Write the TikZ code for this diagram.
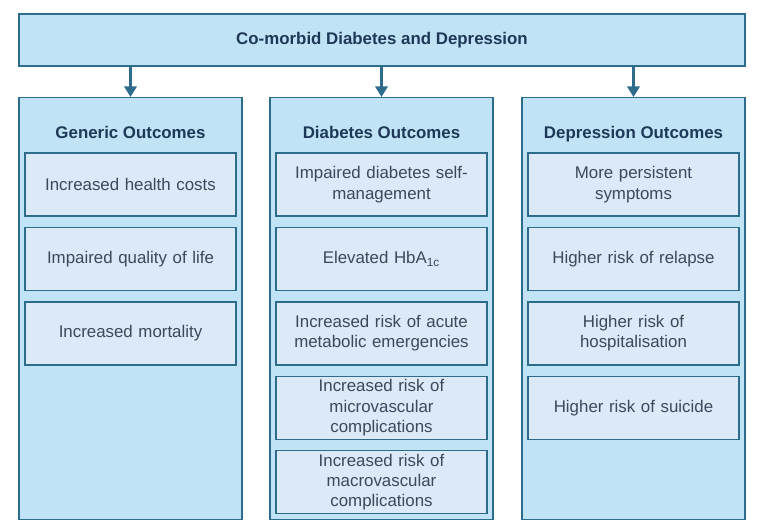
\documentclass[tikz,border=0pt]{standalone}
\usepackage{fontspec}
\setmainfont{Liberation Sans}
\usetikzlibrary{arrows.meta, positioning}
\definecolor{boxline}{RGB}{46,108,140}
\definecolor{outerfill}{RGB}{192,228,245}
\definecolor{innerfill}{RGB}{220,233,247}
\definecolor{headtext}{RGB}{30,56,88}
\definecolor{bodytext}{RGB}{58,74,92}

\begin{document}
\begin{tikzpicture}[
    node distance=0.2cm,
    every node/.style={align=center, font=\fontsize{9.6}{11.6}\selectfont},
    column/.style={draw=boxline, fill=outerfill, line width=0.8pt, minimum width=4.46cm, minimum height=8.44cm, anchor=north},
    heading/.style={text=headtext, font=\fontsize{9.6}{11.6}\selectfont\bfseries},
    outcome/.style={draw=boxline, fill=innerfill, line width=0.8pt, text=bodytext, text width=3.9cm, inner xsep=0.16cm, inner ysep=0.3pt, minimum height=1.26cm},
    arrow/.style={-{Triangle[width=7pt, length=6pt]}, draw=boxline, line width=1.4pt}
]
\useasboundingbox (0,0) rectangle (15.36,-10.58);

% Nodes
\node (top) [draw=boxline, fill=outerfill, line width=0.8pt, minimum width=14.52cm, minimum height=1.04cm, heading] at (7.64,-0.80) {Co-morbid Diabetes and Depression};

\node (gen) [column] at (2.61,-1.94) {};
\node (dia) [column] at (7.63,-1.94) {};
\node (dep) [column] at (12.67,-1.94) {};

\node (genhead) [heading, anchor=base] at (2.61,-2.76) {Generic Outcomes};
\node (diahead) [heading, anchor=base] at (7.63,-2.76) {Diabetes Outcomes};
\node (dephead) [heading, anchor=base] at (12.67,-2.76) {Depression Outcomes};

\node (g1) [outcome] at (2.61,-3.69) {Increased health costs};
\node (g2) [outcome, below=of g1] {Impaired quality of life};
\node (g3) [outcome, below=of g2] {Increased mortality};

\node (d1) [outcome] at (7.63,-3.69) {Impaired diabetes self-\\management};
\node (d2) [outcome, below=of d1] {Elevated HbA\textsubscript{1c}};
\node (d3) [outcome, below=of d2] {Increased risk of acute\\metabolic emergencies};
\node (d4) [outcome, below=of d3] {Increased risk of\\microvascular\\complications};
\node (d5) [outcome, below=of d4] {Increased risk of\\macrovascular\\complications};

\node (p1) [outcome] at (12.67,-3.69) {More persistent\\symptoms};
\node (p2) [outcome, below=of p1] {Higher risk of relapse};
\node (p3) [outcome, below=of p2] {Higher risk of\\hospitalisation};
\node (p4) [outcome, below=of p3] {Higher risk of suicide};

% Arrows
\draw[arrow] (top.south -| gen.north) -- (gen.north);
\draw[arrow] (top.south -| dia.north) -- (dia.north);
\draw[arrow] (top.south -| dep.north) -- (dep.north);

\end{tikzpicture}
\end{document}
